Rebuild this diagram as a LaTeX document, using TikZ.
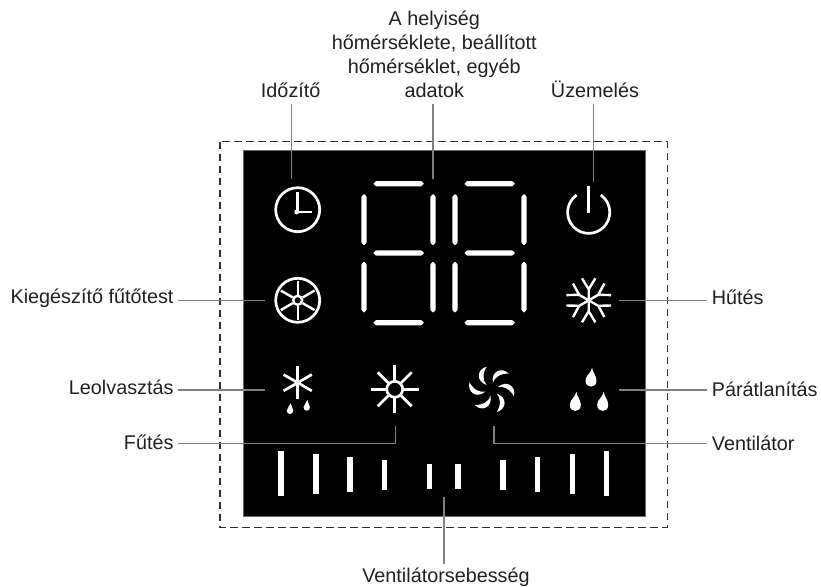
\documentclass[tikz,border=0pt]{standalone}
\usepackage{fontspec}
\setmainfont{Liberation Sans}
\definecolor{labelink}{HTML}{231F20}
\definecolor{leader}{HTML}{808080}
\definecolor{frameink}{HTML}{303030}
\tikzset{
  lbl/.style={text=labelink,font=\fontsize{19.8}{24}\selectfont,inner xsep=4pt,inner ysep=0pt},
  toplbl/.style={lbl,align=center,inner ysep=6pt,inner xsep=0pt,anchor=south},
  conn/.style={draw=leader,line width=1.2pt},
  ico/.style={draw=white,line width=2.7pt},
  thin ico/.style={draw=white,line width=2.4pt},
}
\newcommand{\hseg}[3]{\fill[white,rounded corners=0.6pt] (#1,#3) -- (#1+2.6,#3-2.6) -- (#2-2.6,#3-2.6) -- (#2,#3) -- (#2-2.6,#3+2.6) -- (#1+2.6,#3+2.6) -- cycle;}
\newcommand{\vseg}[3]{\fill[white,rounded corners=0.6pt] (#1,#2) -- (#1+2.6,#2+2.6) -- (#1+2.6,#3-2.6) -- (#1,#3) -- (#1-2.6,#3-2.6) -- (#1-2.6,#2+2.6) -- cycle;}
\newcommand{\digit}[1]{%
  \hseg{#1+9.3}{#1+60}{183.7}\hseg{#1+9.3}{#1+60}{253}\hseg{#1+9.3}{#1+60}{322.7}%
  \vseg{#1}{194}{245.3}\vseg{#1}{261.7}{312.7}\vseg{#1+69}{194}{245.3}\vseg{#1+69}{261.7}{312.7}}
\newcommand{\dropshape}[4]{\fill[white,shift={(#1,#2)},xscale=#3,yscale=#4] (0.1,0) .. controls (0.12,0.25) and (0.5,0.4) .. (0.5,0.68) .. controls (0.5,0.88) and (0.28,1) .. (0,1) .. controls (-0.28,1) and (-0.5,0.88) .. (-0.5,0.68) .. controls (-0.5,0.4) and (0,0.3) .. (0.1,0) -- cycle;}
\newcommand{\fanbar}[3]{\fill[white] (#1-2.7,#2) rectangle (#1+2.7,#3);}
\begin{document}
\begin{tikzpicture}[x=1pt,y=-1pt]
\useasboundingbox (0,0) rectangle (821,586);
% frames
\draw[frameink,line width=1.3pt,dash pattern=on 7.5pt off 4.5pt] (220,141.7) rectangle (667.3,527.3);
\fill[black] (243,150.5) rectangle (645,516);
\draw[leader!80!black,line width=0.8pt] (243,150.5) rectangle (645,516);
% digits
\digit{364}
\digit{455}
% clock
\draw[ico] (297.7,209.7) circle (22);
\draw[ico] (297.3,191.7) -- (297.3,212) -- (311.7,212);
\fill[white] (296.7,212) circle (2.4);
\coordinate (timerpt) at (291.7,179);
% wheel
\draw[ico] (297.7,300.3) circle (22);
\draw[thin ico] (297.7,300.3) circle (4.5);
\foreach \a in {0,60,...,300}{\draw[thin ico,shift={(297.7,300.3)},rotate=\a] (0,-5.7) -- (0,-19.5);}
\coordinate (wheelpt) at (265,300.2);
% power
\draw[ico] plot[variable=\t,domain=55:-235,samples=70] ({588.7+21*cos(\t)},{212.3-21*sin(\t)});
\draw[white,line width=3pt] (588.7,186) -- (588.7,212.7);
\coordinate (powerpt) at (593.7,182);
% snowflake
\foreach \a in {0,60,...,300}{\draw[thin ico,shift={(588.7,300.3)},rotate=\a] (0,0) -- (0,-11) (6.7,-22) -- (0,-11) -- (-6.7,-22);}
\coordinate (snowpt) at (619,300.2);
% defrost
\foreach \a in {0,60,120}{\draw[ico,shift={(297.7,382.7)},rotate=\a] (0,-16.3) -- (0,16.3);}
\dropshape{290}{403.3}{6.4}{10.7}
\dropshape{306.7}{400}{6.4}{10.7}
\coordinate (defrostpt) at (265,390);
% sun
\draw[ico] (394.7,389.3) circle (8);
\foreach \a in {0,45,...,315}{\draw[ico,shift={(394.7,389.3)},rotate=\a] (0,-9) -- (0,-24);}
\coordinate (sunpt) at (395.7,426);
% fan
\foreach \a in {0,60,...,300}{\fill[white,shift={(491.7,389.3)},rotate=\a] (-5,-22.7) .. controls (-15,-20) and (-16,-8) .. (-5,-4.3) .. controls (-9,-8) and (-9.5,-16) .. cycle;}
\coordinate (fanpt) at (494,426);
% dehumidify
\dropshape{591}{367.7}{11}{19}
\dropshape{575.3}{391.7}{11}{19.3}
\dropshape{602.7}{391.7}{11}{19.3}
\coordinate (dehumpt) at (619,390);
% speed bars
\fanbar{281}{451}{496}
\fanbar{316}{454}{493.7}
\fanbar{350}{457}{491.7}
\fanbar{384.7}{460}{490.3}
\fanbar{429.7}{463.7}{489.3}
\fanbar{458}{463.7}{489.3}
\fanbar{503}{460}{490.3}
\fanbar{537.7}{457}{491.7}
\fanbar{572.3}{454}{493.7}
\fanbar{606.7}{451}{496}
\coordinate (barspt) at (444,497.3);
\coordinate (digitpt) at (433,179);
% labels
\node[toplbl] (ltimer) at (290.7,104) {Időzítő};
\node[toplbl] (ldigit) at (434.3,104) {A helyiség\\hőmérséklete, beállított\\hőmérséklet, egyéb\\adatok};
\node[toplbl] (lpower) at (595,104) {Üzemelés};
\node[lbl,anchor=base east] (lwheel) at (177.7,303.5) {Kiegészítő fűtőtest};
\node[lbl,anchor=base east] (ldefrost) at (177.7,394.5) {Leolvasztás};
\node[lbl,anchor=base east] (lsun) at (177.7,449) {Fűtés};
\node[lbl,anchor=base west,inner xsep=5pt] (lsnow) at (706.7,304) {Hűtés};
\node[lbl,anchor=base west,inner xsep=5pt] (ldehum) at (706.7,396) {Párátlanítás};
\node[lbl,anchor=base west,inner xsep=5pt] (lfan) at (706.7,450.7) {Ventilátor};
\node[lbl,anchor=base,inner ysep=4.4pt,inner xsep=0pt] (lbars) at (446,582.7) {Ventilátorsebesség};
% connectors
\draw[conn] (timerpt |- ltimer.south) -- (timerpt);
\draw[conn] (digitpt |- ldigit.south) -- (digitpt);
\draw[conn] (powerpt |- lpower.south) -- (powerpt);
\draw[conn] (lwheel.east |- wheelpt) -- (wheelpt);
\draw[conn] (ldefrost.east |- defrostpt) -- (defrostpt);
\draw[conn] (snowpt) -- (snowpt -| lsnow.west);
\draw[conn] (dehumpt) -- (dehumpt -| ldehum.west);
\coordinate (sunbend) at (395.7,443.8);
\coordinate (fanbend) at (494,443.8);
\draw[conn] (lsun.east |- sunbend) -- (sunbend) -- (sunpt);
\draw[conn] (lfan.west |- fanbend) -- (fanbend) -- (fanpt);
\draw[conn] (barspt) -- (barspt |- lbars.north);
\end{tikzpicture}
\end{document}
